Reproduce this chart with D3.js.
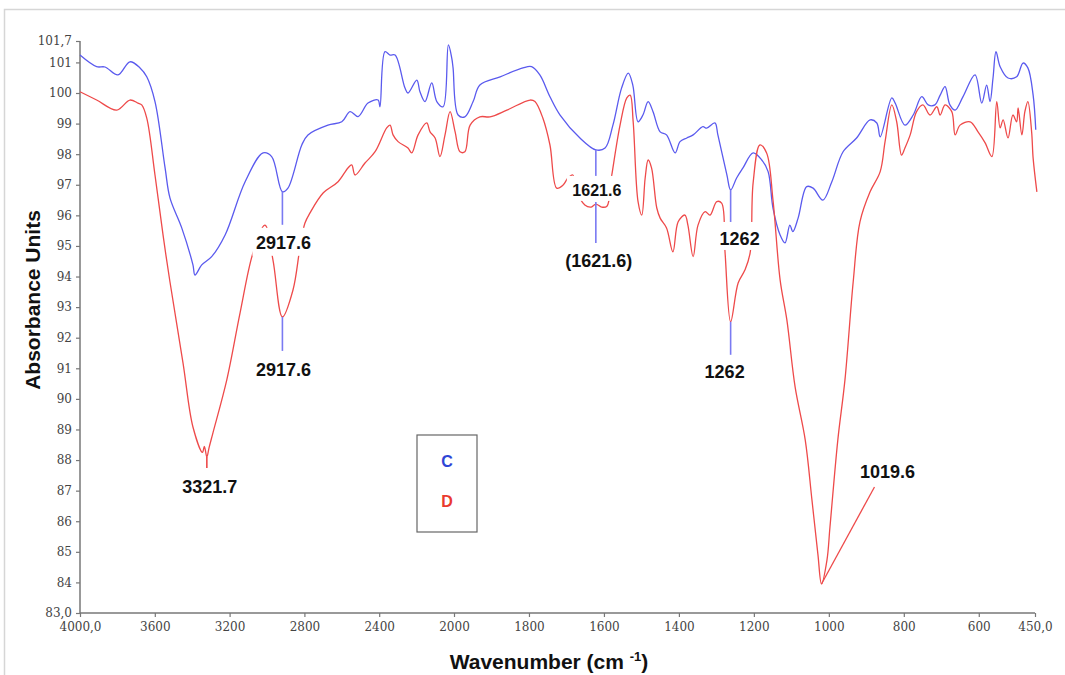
<!DOCTYPE html>
<html>
<head>
<meta charset="utf-8">
<script src="https://cdn.jsdelivr.net/npm/d3@7"></script>
<style>
  body { margin: 0; background: #fff; }
  svg { display: block; }
</style>
</head>
<body>
<svg id="chart" width="1065" height="675"></svg>
<script>
// FTIR spectra of samples C and D (wavenumber in cm-1, absorbance units)
const blueWn = [4000,3911,3866,3797,3733,3679,3643,3599,3545,3519,3456,3396,3385,3349,3296,3224,3117,3021,2975,2917.6,2888,2814,2781,2674,2600,2556,2513,2460,2406,2396,2369,2342,2315,2262,2246,2199,2182,2155,2119,2092,2058,2030,2012,2005,1989,1971,1949,1931,1877,1816,1793,1771,1744,1717,1664,1621.6,1597,1576,1553,1535,1523,1509,1496,1482,1469,1450,1433,1410,1397,1379,1362,1336,1326,1304,1296,1272,1262,1246,1229,1202,1179,1162,1149,1130,1117,1104,1096,1082,1059,1042,1016,992,962,926,890,872,863,832,823,797,775,752,735,717,703,690,677,663,642,610,592,579,570,562,554,543,522,499,482,469,455,448];
const blueAbs = [101.24,100.86,100.85,100.59,101.02,100.82,100.53,99.72,97.55,96.57,95.59,94.38,94.05,94.38,94.65,95.36,97.10,98.04,97.92,96.77,96.89,98.30,98.63,98.95,99.06,99.39,99.23,99.67,99.77,99.55,101.35,101.24,101.24,100.16,100.00,100.42,100.04,99.72,100.33,99.72,99.55,101.57,101.14,100.82,99.28,99.22,99.72,100.26,100.53,100.82,100.86,100.59,99.88,99.28,98.53,98.14,98.20,98.95,100.16,100.65,100.26,99.06,99.28,99.72,99.39,98.73,98.63,98.04,98.41,98.53,98.63,98.90,98.85,99.02,98.63,97.32,96.83,97.22,97.55,98.04,97.81,97.43,96.24,95.36,95.10,95.68,95.47,95.91,96.94,96.89,96.50,97.10,98.08,98.53,99.12,99.02,98.57,99.84,99.67,98.95,99.28,99.88,99.61,99.61,99.93,100.21,99.61,99.44,99.88,100.59,99.67,100.26,99.72,100.49,101.35,100.86,100.49,100.53,100.98,100.82,99.93,98.80];

const redWn = [4000,3911,3804,3733,3690,3670,3643,3599,3556,3519,3449,3396,3345,3335,3321.7,3310,3289,3215,3144,3075,3011,2968,2917.6,2861,2823,2797,2770,2700,2620,2567,2547,2529,2476,2422,2360,2342,2326,2299,2246,2226,2192,2146,2128,2101,2075,2048,2021,1997,1984,1971,1957,1931,1904,1859,1797,1784,1763,1744,1726,1709,1696,1683,1674,1651,1634,1621.6,1606,1592,1579,1557,1539,1530,1522,1509,1499,1490,1482,1473,1459,1450,1433,1416,1402,1384,1376,1362,1349,1330,1317,1299,1286,1277,1262,1242,1224,1210,1202,1184,1166,1149,1130,1112,1090,1063,1045,1029,1019.6,1005,997,976,957,935,917,890,863,850,832,819,806,797,783,766,749,730,712,703,690,672,663,650,623,602,583,565,552,543,535,522,509,499,495,485,477,469,459,455,445];
const redAbs = [100.04,99.77,99.44,99.77,99.67,99.61,99.18,97.32,95.36,93.83,91.17,89.08,88.25,88.45,88.10,88.40,88.89,90.62,92.81,94.77,95.68,94.54,92.68,93.56,94.97,95.75,96.08,96.73,97.10,97.55,97.65,97.32,97.71,98.08,98.86,98.95,98.63,98.41,98.20,98.04,98.63,99.02,98.73,98.53,97.92,98.63,99.39,98.73,98.08,98.08,98.95,99.22,99.22,99.44,99.77,99.72,99.18,98.30,96.89,96.99,97.22,97.32,96.83,96.34,96.27,96.37,96.27,96.30,97.32,98.95,99.84,99.93,99.06,96.45,96.01,97.22,97.81,97.55,96.24,95.91,95.59,94.81,95.79,96.01,95.68,94.65,95.68,96.12,96.01,96.45,96.40,94.81,92.52,93.79,94.21,94.77,97.06,98.30,98.04,96.50,93.89,92.58,90.39,88.66,86.69,84.90,83.95,84.73,85.81,88.66,90.62,93.83,95.79,96.77,97.43,98.41,99.61,99.06,97.97,98.20,98.63,99.39,99.61,99.28,99.55,99.28,99.61,99.39,98.63,98.95,99.06,98.73,98.37,97.92,99.72,98.86,99.12,98.53,99.28,99.06,99.51,98.63,99.39,99.72,98.73,97.87,96.77];

const seriesNames = ["C", "D"];
const xTicks = [4000, 3600, 3200, 2800, 2400, 2000, 1800, 1600, 1400, 1200, 1000, 800, 600, 450];
const yTicks = [83, 84, 85, 86, 87, 88, 89, 90, 91, 92, 93, 94, 95, 96, 97, 98, 99, 100, 101, 101.7];

// Peak annotations: wavenumber and the text written next to it
const peakWn = [2917.6, 2917.6, 3321.7, 1621.6, 1621.6, 1262, 1262, 1019.6];
const peakText = ["2917.6", "2917.6", "3321.7", "1621.6", "(1621.6)", "1262", "1262", "1019.6"];

const svg = d3.select("#chart");
const BLUE = "#5a5aee", RED = "#ee4a4a", TICKBLUE = "#7a7af2";
const LABEL_FONT = "'Liberation Sans', Arial, sans-serif";

// outer frame
svg.append("path").attr("d", "M4.5,675 V9.5 H1065").attr("fill", "none")
  .attr("stroke", "#d6d6d6").attr("stroke-width", 1.5);

// scale below 2000 cm-1 is expanded two-fold
const x = d3.scaleLinear().domain([4000, 2000, 450]).range([80, 454, 1035]);
const y = d3.scaleLinear().domain([83, 101.7]).range([613, 41]);

const fmtX = d => (d === 4000 || d === 450) ? d.toFixed(1).replace(".", ",") : String(d);
const fmtY = d => (d === 83 || d === 101.7) ? d.toFixed(1).replace(".", ",") : String(d);

// axes
const yAxis = svg.append("g").attr("transform", "translate(80,0)")
  .call(d3.axisLeft(y).tickValues(yTicks).tickFormat(fmtY).tickSize(4).tickPadding(4));
const xAxis = svg.append("g").attr("transform", "translate(0,613)")
  .call(d3.axisBottom(x).tickValues(xTicks).tickFormat(fmtX).tickSize(4).tickPadding(5));
[xAxis, yAxis].forEach(g => {
  g.select(".domain").attr("stroke", "#777").attr("stroke-width", 1.5);
  g.selectAll(".tick line").attr("stroke", "#777").attr("stroke-width", 1.2);
  g.selectAll(".tick text").attr("fill", "#444").attr("font-family", "'DejaVu Serif', serif")
    .attr("font-size", 12);
});
yAxis.select(".domain").attr("d", "M0,41V613");
xAxis.select(".domain").attr("d", "M80,0H1035");

// axis titles
svg.append("text").attr("transform", "translate(40,300) rotate(-90)")
  .attr("text-anchor", "middle").attr("font-family", LABEL_FONT)
  .attr("font-weight", "bold").attr("font-size", 21).attr("fill", "#111")
  .text("Absorbance Units");
const xt = svg.append("text").attr("x", 549).attr("y", 669).attr("text-anchor", "middle")
  .attr("font-family", LABEL_FONT).attr("font-weight", "bold").attr("font-size", 21).attr("fill", "#111");
xt.append("tspan").text("Wavenumber (cm ");
xt.append("tspan").attr("font-size", 13).attr("dy", -8).text("-1");
xt.append("tspan").attr("dy", 8).text(")");

// spectra
const line = d3.line().x(d => x(d[0])).y(d => y(d[1])).curve(d3.curveCatmullRom.alpha(0.5));
const blue = blueWn.map((w, i) => [w, blueAbs[i]]);
const red = redWn.map((w, i) => [w, redAbs[i]]);
svg.append("path").datum(blue).attr("d", line).attr("fill", "none")
  .attr("stroke", BLUE).attr("stroke-width", 1.3).attr("stroke-linejoin", "round");
svg.append("path").datum(red).attr("d", line).attr("fill", "none")
  .attr("stroke", RED).attr("stroke-width", 1.3).attr("stroke-linejoin", "round");

// annotations
const bAt = w => y(blueAbs[blueWn.indexOf(w)]);
const rAt = w => y(redAbs[redWn.indexOf(w)]);
const ann = svg.append("g");
function vline(xp, y1, y2, color) {
  ann.append("line").attr("x1", xp).attr("x2", xp).attr("y1", y1).attr("y2", y2)
    .attr("stroke", color).attr("stroke-width", 1.6);
}
function box(x0, y0, w, h) {
  ann.append("rect").attr("x", x0).attr("y", y0).attr("width", w).attr("height", h).attr("fill", "#fff");
}
function label(xp, yp, txt, size) {
  ann.append("text").attr("x", xp).attr("y", yp).attr("text-anchor", "middle")
    .attr("font-family", LABEL_FONT).attr("font-weight", "bold")
    .attr("font-size", size || 18).attr("fill", "#111").text(txt);
}

// 2917.6 (both spectra)
{
  const X = x(peakWn[0]);
  vline(X, bAt(peakWn[0]), bAt(peakWn[0]) + 33, TICKBLUE);
  box(X - 30, bAt(peakWn[0]) + 36, 65, 28);
  label(X + 1, bAt(peakWn[0]) + 57, peakText[0]);
  vline(X, rAt(peakWn[1]), rAt(peakWn[1]) + 34, TICKBLUE);
  label(X + 1, rAt(peakWn[1]) + 59, peakText[1]);
}
// 3321.7
{
  const X = x(peakWn[2]);
  vline(X, rAt(peakWn[2]), rAt(peakWn[2]) + 11, RED);
  label(X + 3, rAt(peakWn[2]) + 36, peakText[2]);
}
// 1621.6
{
  const X = x(peakWn[3]);
  vline(X, bAt(peakWn[3]), bAt(peakWn[3]) + 27, TICKBLUE);
  box(X - 29, bAt(peakWn[3]) + 26, 62, 25);
  label(X + 1, bAt(peakWn[3]) + 46, peakText[3], 16);
  vline(X, rAt(peakWn[4]) - 2, rAt(peakWn[4]) + 39, TICKBLUE);
  label(X + 3, rAt(peakWn[4]) + 63, peakText[4]);
}
// 1262
{
  const X = x(peakWn[5]);
  vline(X, bAt(peakWn[5]), bAt(peakWn[5]) + 33, TICKBLUE);
  box(X - 13, bAt(peakWn[5]) + 32, 49, 28);
  label(X + 9, bAt(peakWn[5]) + 55, peakText[5]);
  vline(X, rAt(peakWn[6]), rAt(peakWn[6]) + 33, TICKBLUE);
  label(X - 6, rAt(peakWn[6]) + 56, peakText[6]);
}
// 1019.6 with leader line
{
  const X = x(peakWn[7]), Y = rAt(peakWn[7]);
  ann.append("line").attr("x1", X).attr("y1", Y).attr("x2", X + 53).attr("y2", Y - 97)
    .attr("stroke", RED).attr("stroke-width", 1.3);
  label(X + 66, Y - 106, peakText[7]);
}

// legend
const lg = svg.append("g").attr("transform", "translate(417,435)");
lg.append("rect").attr("width", 60).attr("height", 97).attr("fill", "none")
  .attr("stroke", "#666").attr("stroke-width", 1.2);
lg.selectAll("text").data(seriesNames).join("text")
  .attr("x", 30).attr("y", (d, i) => 32 + i * 40).attr("text-anchor", "middle")
  .attr("font-family", LABEL_FONT).attr("font-weight", "bold").attr("font-size", 16)
  .attr("fill", (d, i) => i === 0 ? "#2f45d6" : "#ea3a2e").text(d => d);
</script>
</body>
</html>
